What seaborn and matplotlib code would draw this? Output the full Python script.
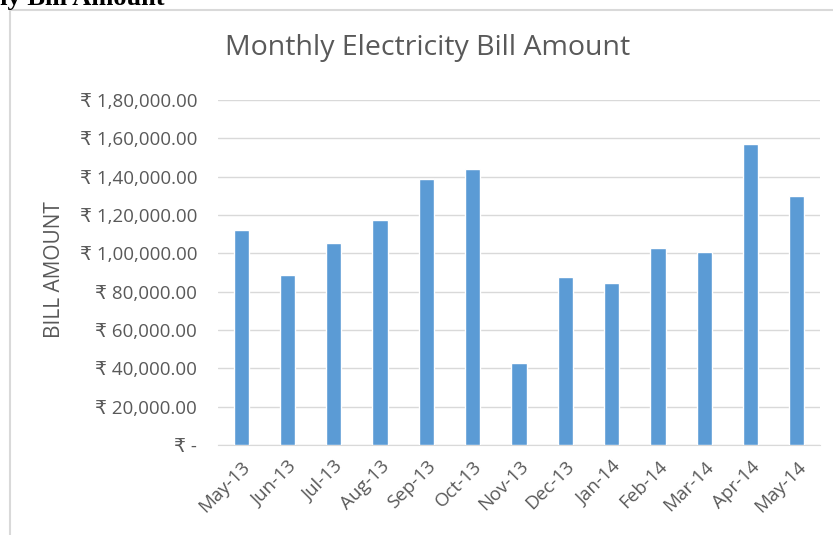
import pandas as pd
import numpy as np
import matplotlib.pyplot as plt
import seaborn as sns
from matplotlib.patches import Rectangle
from matplotlib.ticker import FuncFormatter

months = ['May-13', 'Jun-13', 'Jul-13', 'Aug-13', 'Sep-13', 'Oct-13', 'Nov-13',
          'Dec-13', 'Jan-14', 'Feb-14', 'Mar-14', 'Apr-14', 'May-14']
bill = [112300, 88500, 105500, 117500, 139000, 144000, 43000,
        87700, 84600, 102800, 100600, 156800, 130000]
yticks = [0, 20000, 40000, 60000, 80000, 100000, 120000, 140000, 160000, 180000]

df = pd.DataFrame({'Month': months, 'Bill': bill})

sns.set_style('white')
plt.rcParams['font.family'] = ['Open Sans', 'DejaVu Sans']
grey = '#595959'


def rupee(v, pos):
    # indian grouping, like excel: 1,80,000.00
    if v == 0:
        return '₹ -'
    s = '%d' % int(round(v))
    last3 = s[-3:]
    rest = s[:-3]
    parts = []
    while len(rest) > 2:
        parts.insert(0, rest[-2:])
        rest = rest[:-2]
    if rest:
        parts.insert(0, rest)
    return '₹ ' + ','.join(parts + [last3]) + '.00'


fig = plt.figure(figsize=(8.33, 5.35), dpi=100)
ax = fig.add_axes([218 / 833, 1 - 445 / 535, (820 - 218) / 833, (445 - 100) / 535])

sns.barplot(data=df, x='Month', y='Bill', color='#5B9BD5', width=0.33,
            saturation=1, ax=ax, zorder=3)

ax.set_ylim(0, 180000)
ax.set_yticks(yticks)
ax.yaxis.set_major_formatter(FuncFormatter(rupee))
ax.grid(axis='y', color='#D9D9D9', linewidth=1, zorder=0)
ax.set_xlim(-0.5, len(months) - 0.5)

for s in ['top', 'right', 'left']:
    ax.spines[s].set_visible(False)
ax.spines['bottom'].set_color('#D9D9D9')

# excel style ticks between categories
ax.set_xticks(np.arange(len(months)))
ax.set_xticks(np.arange(-0.5, len(months)), minor=True)
ax.tick_params(axis='x', which='major', length=0, pad=9)
ax.tick_params(axis='x', which='minor', length=5, color='#D9D9D9')
ax.tick_params(axis='y', length=0, pad=15)
ax.set_xticklabels(months, rotation=45, ha='right', rotation_mode='anchor',
                   fontsize=13.5, color=grey)
for t in ax.get_yticklabels():
    t.set_fontsize(13.5)
    t.set_color(grey)

ax.set_xlabel('')
ax.set_ylabel('')
fig.text(55 / 833, 1 - 270 / 535, 'BILL AMOUNT', rotation=90, ha='center',
         va='center', fontsize=15, color=grey)

fig.text(428 / 833, 1 - 48 / 535, 'Monthly Electricity Bill Amount',
         ha='center', va='center', fontsize=20.5, color=grey)

# chart frame + cut off caption above it
fig.patches.append(Rectangle((10 / 833, -0.1), 1.5, 1.1 - 10 / 535,
                             transform=fig.transFigure, fill=False,
                             edgecolor='#D9D9D9', linewidth=1.5))
fig.text(165 / 833, 1 - 5 / 535, 'Monthly Bill Amount', ha='right',
         va='baseline', fontsize=19, fontweight='bold',
         family='Liberation Serif', color='black')

plt.savefig('out.png', dpi=100)
